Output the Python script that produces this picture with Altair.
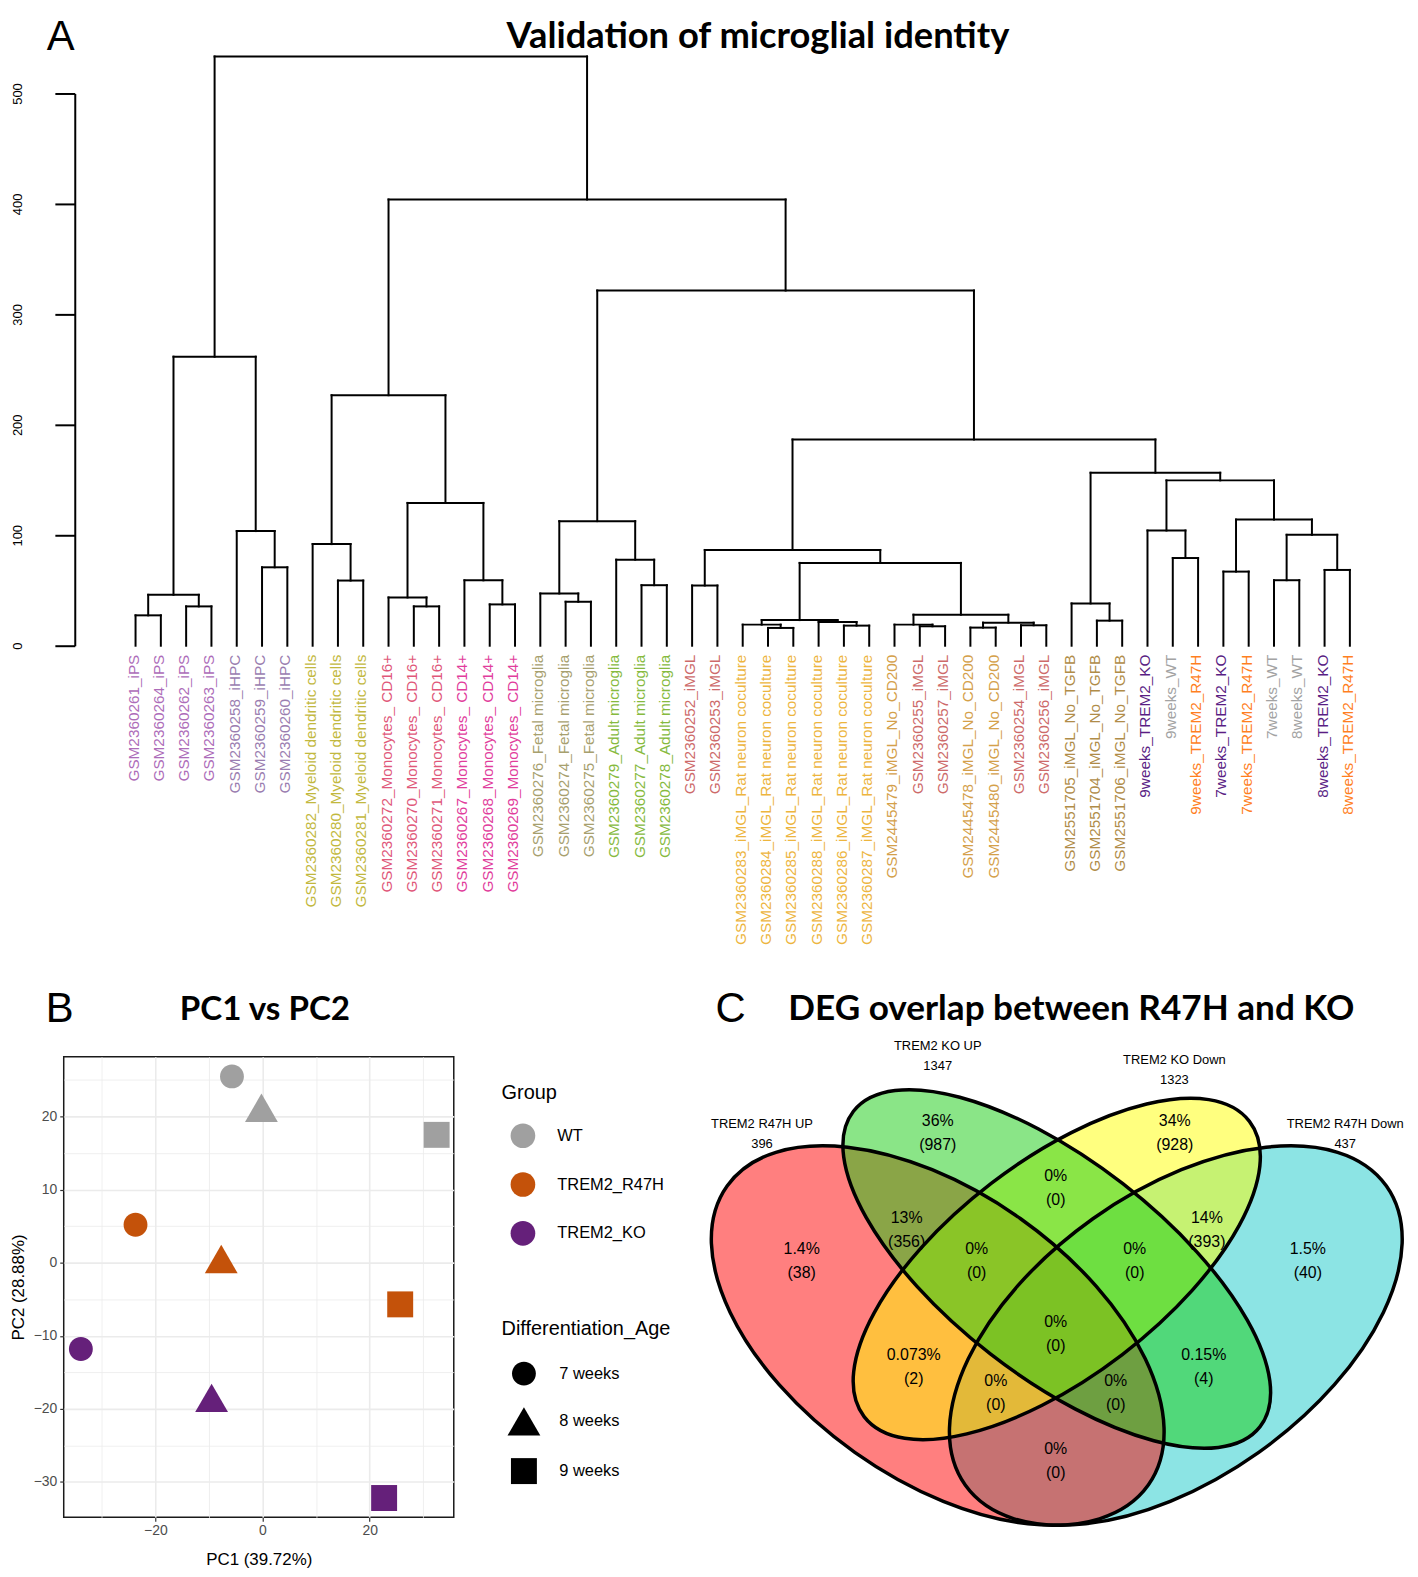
import altair as alt
import numpy as np
import pandas as pd

FONT = "Liberation Sans"
HEAD = "Lato"

panel_letters = ["A", "B", "C"]
panel_titles = ["Validation of microglial identity", "PC1 vs PC2", "DEG overlap between R47H and KO"]

# ---------------- Panel A : hierarchical clustering ----------------
leaf_labels = [
    "GSM2360261_iPS", "GSM2360264_iPS", "GSM2360262_iPS", "GSM2360263_iPS",
    "GSM2360258_iHPC", "GSM2360259_iHPC", "GSM2360260_iHPC",
    "GSM2360282_Myeloid dendritic cells", "GSM2360280_Myeloid dendritic cells", "GSM2360281_Myeloid dendritic cells",
    "GSM2360272_Monocytes_ CD16+", "GSM2360270_Monocytes_ CD16+", "GSM2360271_Monocytes_ CD16+",
    "GSM2360267_Monocytes_ CD14+", "GSM2360268_Monocytes_ CD14+", "GSM2360269_Monocytes_ CD14+",
    "GSM2360276_Fetal microglia", "GSM2360274_Fetal microglia", "GSM2360275_Fetal microglia",
    "GSM2360279_Adult microglia", "GSM2360277_Adult microglia", "GSM2360278_Adult microglia",
    "GSM2360252_iMGL", "GSM2360253_iMGL",
    "GSM2360283_iMGL_Rat neuron coculture", "GSM2360284_iMGL_Rat neuron coculture",
    "GSM2360285_iMGL_Rat neuron coculture", "GSM2360288_iMGL_Rat neuron coculture",
    "GSM2360286_iMGL_Rat neuron coculture", "GSM2360287_iMGL_Rat neuron coculture",
    "GSM2445479_iMGL_No_CD200", "GSM2360255_iMGL", "GSM2360257_iMGL",
    "GSM2445478_iMGL_No_CD200", "GSM2445480_iMGL_No_CD200", "GSM2360254_iMGL", "GSM2360256_iMGL",
    "GSM2551705_iMGL_No_TGFB", "GSM2551704_iMGL_No_TGFB", "GSM2551706_iMGL_No_TGFB",
    "9weeks_TREM2_KO", "9weeks_WT", "9weeks_TREM2_R47H",
    "7weeks_TREM2_KO", "7weeks_TREM2_R47H", "7weeks_WT", "8weeks_WT",
    "8weeks_TREM2_KO", "8weeks_TREM2_R47H",
]
leaf_groups = (["iPS"] * 4 + ["iHPC"] * 3 + ["Myeloid DC"] * 3 + ["Mono CD16+"] * 3 + ["Mono CD14+"] * 3
               + ["Fetal"] * 3 + ["Adult"] * 3 + ["iMGL"] * 2 + ["Coculture"] * 6
               + ["No_CD200", "iMGL", "iMGL", "No_CD200", "No_CD200", "iMGL", "iMGL"]
               + ["No_TGFB"] * 3
               + ["KO", "WT", "R47H", "KO", "R47H", "WT", "WT", "KO", "R47H"])
leaf_group_levels = ["iPS", "iHPC", "Myeloid DC", "Mono CD16+", "Mono CD14+", "Fetal", "Adult", "iMGL",
                     "Coculture", "No_CD200", "No_TGFB", "KO", "WT", "R47H"]
leaf_group_colors = ["#AD6CB9", "#9A7DB0", "#C2B83E", "#E0587A", "#E13D9C", "#A7A06E", "#86BA3E", "#CD6A6A",
                     "#EDB53E", "#D4A04A", "#B08C48", "#5A1E84", "#A3A3A3", "#FF7F1F"]

# hclust-style merge table (negative = leaf, positive = earlier merge)
merge_left = [-1, -3, 1, -6, -5, 3, -9, -8, -12, -11, -15, -14, 10, 8, -18, -17, -21, -20, 16, -23, -26, -25,
              -29, -28, 22, -32, -31, -34, -36, 28, 27, 25, 20, -39, -38, -42, -41, -44, -46, -48, 39, 38, 37,
              35, 33, 19, 14, 6]
merge_right = [-2, -4, 2, -7, 4, 5, -10, 7, -13, 9, -16, 11, 12, 13, -19, 15, -22, 17, 18, -24, -27, 21,
               -30, 23, 24, -33, 26, -35, -37, 29, 30, 31, 32, -40, 34, -43, 36, -45, -47, -49, 40, 41, 42,
               43, 44, 45, 46, 47]
merge_height = [27.5, 35.6, 46.1, 71.0, 103.8, 261.7, 59.0, 92.0, 35.6, 43.7, 37.4, 59.2, 129.3, 226.8,
                39.8, 47.3, 54.8, 77.9, 112.8, 54.5, 16.1, 19.1, 18.2, 21.5, 23.2, 17.6, 19.1, 16.4, 18.5,
                20.9, 28.1, 75.0, 86.7, 22.7, 38.3, 79.4, 104.3, 67.1, 59.3, 68.6, 100.4, 114.2, 149.7,
                156.6, 186.7, 321.6, 404.0, 533.5]
y_ticks_a = [0, 100, 200, 300, 400, 500]

node_x = []
segs = []


def child(n):
    if n < 0:
        return float(-n), 0.0
    return node_x[n - 1], merge_height[n - 1]


for l, r, h in zip(merge_left, merge_right, merge_height):
    lx, lh = child(l)
    rx, rh = child(r)
    segs.append((lx, lh, lx, h))
    segs.append((rx, rh, rx, h))
    segs.append((lx, h, rx, h))
    node_x.append((lx + rx) / 2)

seg_df = pd.DataFrame(segs, columns=["x", "y", "x2", "y2"])
leaf_df = pd.DataFrame({"x": [float(i + 1) for i in range(len(leaf_labels))], "y": 0.0,
                        "label": leaf_labels, "grp": leaf_groups})

LEAF_PX = 25.43
XA = [-1.839, 50.0]
YA_PX = 1.11
xs_a = alt.Scale(domain=XA, nice=False, zero=False)
ys_a = alt.Scale(domain=[0, 500], nice=False, zero=False)

rules = alt.Chart(seg_df).mark_rule(color="black", strokeWidth=2, strokeCap="square").encode(
    x=alt.X("x:Q", scale=xs_a, axis=None),
    x2="x2:Q",
    y=alt.Y("y:Q", scale=ys_a, axis=alt.Axis(
        values=y_ticks_a, title=None, grid=False, labelAngle=270, labelAlign="center",
        labelBaseline="bottom", labelFont=FONT, labelFontSize=13, labelColor="black",
        labelPadding=31, tickSize=20, tickWidth=2, tickColor="black", offset=-11.1,
        domainColor="black", domainWidth=2)),
    y2="y2:Q",
)
leaves = alt.Chart(leaf_df).mark_text(angle=270, align="right", baseline="middle", dx=-9, dy=-2,
                                      font=FONT, fontSize=15.4).encode(
    x=alt.X("x:Q", scale=xs_a, axis=None),
    y=alt.Y("y:Q", scale=ys_a),
    text="label:N",
    color=alt.Color("grp:N", scale=alt.Scale(domain=leaf_group_levels, range=leaf_group_colors), legend=None),
)
# invisible spacer that fixes the top edge of the panel, so the headings sit fully inside the picture
spacer_a = alt.Chart(pd.DataFrame({"t": [panel_letters[0]]})).mark_rule(opacity=0, strokeWidth=1).encode(
    x=alt.value(0), x2=alt.value(10), y=alt.value(-81.5))
letter_a = alt.Chart(pd.DataFrame({"t": [panel_letters[0]]})).mark_text(
    font=FONT, fontSize=42, align="center", baseline="alphabetic", color="black").encode(
    x=alt.value(-3), y=alt.value(-43.5), text="t:N")
title_a = alt.Chart(pd.DataFrame({"t": [panel_titles[0]]})).mark_text(
    font=HEAD, fontSize=36.5, fontWeight="bold", align="center", baseline="alphabetic", color="black").encode(
    x=alt.value(697.7), y=alt.value(-45.5), text="t:N")

panel_a = alt.layer(rules, leaves, spacer_a, letter_a, title_a).properties(
    width=round((XA[1] - XA[0]) * LEAF_PX), height=round(500 * YA_PX))

# ---------------- Panel B : PCA ----------------
pca_group = ["WT", "WT", "WT", "TREM2_R47H", "TREM2_R47H", "TREM2_R47H", "TREM2_KO", "TREM2_KO", "TREM2_KO"]
pca_age = ["7 weeks", "8 weeks", "9 weeks"] * 3
pc1 = [-5.7, -0.2, 32.5, -23.7, -7.7, 25.7, -33.9, -9.5, 22.7]
pc2 = [25.5, 21.2, 17.5, 5.2, 0.5, -5.7, -11.8, -18.5, -32.2]
group_levels = ["WT", "TREM2_R47H", "TREM2_KO"]
group_colors = ["#A0A0A0", "#C4520A", "#65207A"]
age_levels = ["7 weeks", "8 weeks", "9 weeks"]
k = 0.5523
rc = 0.727
circle_path = (f"M {rc} 0 C {rc} {k*rc:.4f} {k*rc:.4f} {rc} 0 {rc} C {-k*rc:.4f} {rc} {-rc} {k*rc:.4f} {-rc} 0 "
               f"C {-rc} {-k*rc:.4f} {-k*rc:.4f} {-rc} 0 {-rc} C {k*rc:.4f} {-rc} {rc} {-k*rc:.4f} {rc} 0 Z")
tri_path = "M 0 -0.866 L 1 0.866 L -1 0.866 Z"
sq_path = "M -0.79 -0.79 L 0.79 -0.79 L 0.79 0.79 L -0.79 0.79 Z"
age_shapes = [circle_path, tri_path, sq_path]

pca_df = pd.DataFrame({"PC1": pc1, "PC2": pc2, "Group": pca_group, "Differentiation_Age": pca_age})

x_major = "datum.value % 20 == 0"
y_major = "datum.value % 10 == 0"
pts = alt.Chart(pca_df).mark_point(filled=True, size=1089, opacity=1, strokeWidth=0).encode(
    x=alt.X("PC1:Q", scale=alt.Scale(domain=[-37.1, 35.7], nice=False, zero=False),
            axis=alt.Axis(values=[-30, -20, -10, 0, 10, 20, 30],
                          labelExpr=f"{x_major} ? datum.label : ''",
                          gridColor="#EBEBEB",
                          gridWidth={"condition": {"test": x_major, "value": 1.6}, "value": 0.8},
                          tickColor={"condition": {"test": x_major, "value": "#333333"}, "value": "transparent"},
                          tickSize=4, tickWidth=1.2, domain=False, labelFont=FONT, labelFontSize=14,
                          labelColor="#4D4D4D", labelPadding=2, title="PC1 (39.72%)", titleFont=FONT,
                          titleFontSize=17, titleFontWeight="normal", titleColor="black", titlePadding=14)),
    y=alt.Y("PC2:Q", scale=alt.Scale(domain=[-34.85, 28.2], nice=False, zero=False),
            axis=alt.Axis(values=[-30, -25, -20, -15, -10, -5, 0, 5, 10, 15, 20, 25],
                          labelExpr=f"{y_major} ? datum.label : ''",
                          gridColor="#EBEBEB",
                          gridWidth={"condition": {"test": y_major, "value": 1.6}, "value": 0.8},
                          tickColor={"condition": {"test": y_major, "value": "#333333"}, "value": "transparent"},
                          tickSize=4, tickWidth=1.2, domain=False, labelFont=FONT, labelFontSize=14,
                          labelColor="#4D4D4D", labelPadding=3, title="PC2 (28.88%)", titleFont=FONT,
                          titleFontSize=17, titleFontWeight="normal", titleColor="black", titlePadding=6)),
    color=alt.Color("Group:N", scale=alt.Scale(domain=group_levels, range=group_colors),
                    legend=alt.Legend(orient="none", legendX=440, legendY=27, title="Group", padding=0,
                                      titleFont=FONT, titleFontSize=20, titleFontWeight="normal",
                                      titleColor="black", titlePadding=20, labelFont=FONT, labelFontSize=16.5,
                                      labelColor="black", symbolType="circle", symbolSize=615,
                                      symbolStrokeWidth=0, symbolOpacity=1, rowPadding=24, labelOffset=22,
                                      symbolOffset=9)),
    shape=alt.Shape("Differentiation_Age:N", scale=alt.Scale(domain=age_levels, range=age_shapes),
                    legend=alt.Legend(orient="none", legendX=440, legendY=264, title="Differentiation_Age",
                                      padding=0, titleFont=FONT, titleFontSize=20, titleFontWeight="normal",
                                      titleColor="black", titlePadding=18, labelFont=FONT, labelFontSize=16.5,
                                      labelColor="black", symbolSize=1089, symbolFillColor="black",
                                      symbolStrokeWidth=0, symbolOpacity=1, rowPadding=19, labelOffset=19,
                                      symbolOffset=6)),
)
letter_b = alt.Chart(pd.DataFrame({"t": [panel_letters[1]]})).mark_text(
    font=FONT, fontSize=42, align="center", baseline="alphabetic", color="black").encode(
    x=alt.value(-4), y=alt.value(-34.7), text="t:N")
title_b = alt.Chart(pd.DataFrame({"t": [panel_titles[1]]})).mark_text(
    font=HEAD, fontSize=33.3, fontWeight="bold", align="center", baseline="alphabetic", color="black").encode(
    x=alt.value(202.2), y=alt.value(-36.7), text="t:N")
panel_b = alt.layer(pts, letter_b, title_b).properties(
    width=392, height=463, view=alt.ViewBackground(stroke="#1A1A1A", strokeWidth=1.5))

# ---------------- Panel C : Venn diagram ----------------
venn_sets = ["TREM2 R47H Down", "TREM2 R47H UP", "TREM2 KO Down", "TREM2 KO UP"]
venn_cx = [0.65, 0.35, 0.50, 0.50]
venn_cy = [0.47, 0.47, 0.57, 0.57]
venn_a = [0.35, 0.35, 0.33, 0.35]
venn_b = [0.20, 0.20, 0.15, 0.15]
venn_rot = [45, 135, 45, 135]
venn_fill = ["#19C9C9", "#FF0000", "#FFFF00", "#16CC10"]

region_u = [0.350, 0.6487, 0.4987, 0.3109, 0.6891, 0.1786, 0.3991, 0.5982, 0.8163, 0.4987, 0.3198, 0.6852,
            0.4232, 0.5743, 0.4987]
region_v = [0.7746, 0.7746, 0.6912, 0.6279, 0.6279, 0.5813, 0.5813, 0.5813, 0.5813, 0.4723, 0.4227, 0.4227,
            0.3837, 0.3837, 0.2815]
region_pct = ["36%", "34%", "0%", "13%", "14%", "1.4%", "0%", "0%", "1.5%", "0%", "0.073%", "0.15%",
              "0%", "0%", "0%"]
region_n = [987, 928, 0, 356, 393, 38, 0, 0, 40, 0, 2, 4, 0, 0, 0]

cat_names = ["TREM2 R47H UP", "TREM2 KO UP", "TREM2 KO Down", "TREM2 R47H Down"]
cat_totals = [396, 1347, 1323, 437]
cat_u = [0.1286, 0.350, 0.6482, 0.8634]
cat_v = [0.7728, 0.8895, 0.8684, 0.7728]

SX = 798.0
SY = 669.0
VU = [0.07, 0.93]
VV = [0.185, 0.8888]


def ellipse_path(e):
    return (f"M 1 0 C 1 {k*e:.4f} {k:.4f} {e:.4f} 0 {e:.4f} C {-k:.4f} {e:.4f} -1 {k*e:.4f} -1 0 "
            f"C -1 {-k*e:.4f} {-k:.4f} {-e:.4f} 0 {-e:.4f} C {k:.4f} {-e:.4f} 1 {-k*e:.4f} 1 0 Z")


ell_rows = []
for name, cx, cy, a, b, rot in zip(venn_sets, venn_cx, venn_cy, venn_a, venn_b, venn_rot):
    t = np.radians(rot)
    R = np.array([[np.cos(t), -np.sin(t)], [np.sin(t), np.cos(t)]])
    A = np.diag([SX, -SY]) @ R @ np.diag([a, b])
    U, s, Vt = np.linalg.svd(A)
    ang = float(np.degrees(np.arctan2(U[1, 0], U[0, 0])) % 180)
    ell_rows.append({"set": name, "cx": cx, "cy": cy, "size": float((2 * s[0]) ** 2), "angle": ang,
                     "path": ellipse_path(s[1] / s[0])})
ell_df = pd.DataFrame(ell_rows)

vx = alt.Scale(domain=VU, nice=False, zero=False)
vy = alt.Scale(domain=VV, nice=False, zero=False)

enc_common = dict(
    x=alt.X("cx:Q", scale=vx, axis=None),
    y=alt.Y("cy:Q", scale=vy, axis=None),
    shape=alt.Shape("set:N", scale=alt.Scale(domain=venn_sets, range=list(ell_df["path"])), legend=None),
    size=alt.Size("size:Q", scale=None),
    angle=alt.Angle("angle:Q", scale=None),
)
ell_plot_df = ell_df.drop(columns=["path"])
fills = alt.Chart(ell_plot_df).mark_point(filled=True, opacity=0.5, strokeWidth=0).encode(
    color=alt.Color("set:N", scale=alt.Scale(domain=venn_sets, range=venn_fill), legend=None),
    **enc_common)
outlines = alt.Chart(ell_plot_df).mark_point(filled=False, color="black", strokeWidth=3.5, opacity=1).encode(
    **enc_common)

reg_df = pd.DataFrame({"u": region_u, "v": region_v, "pct": region_pct,
                       "cnt": [f"({n})" for n in region_n]})
reg_pct = alt.Chart(reg_df).mark_text(font=FONT, fontSize=16, baseline="middle", align="center",
                                      color="black", dy=-12).encode(
    x=alt.X("u:Q", scale=vx, axis=None), y=alt.Y("v:Q", scale=vy, axis=None), text="pct:N")
reg_cnt = alt.Chart(reg_df).mark_text(font=FONT, fontSize=16, baseline="middle", align="center",
                                      color="black", dy=12).encode(
    x=alt.X("u:Q", scale=vx, axis=None), y=alt.Y("v:Q", scale=vy, axis=None), text="cnt:N")
cat_df = pd.DataFrame({"u": cat_u, "v": cat_v, "name": cat_names, "tot": [str(n) for n in cat_totals]})
cat_name = alt.Chart(cat_df).mark_text(font=FONT, fontSize=13, baseline="middle", align="center",
                                       color="black", dy=-10).encode(
    x=alt.X("u:Q", scale=vx, axis=None), y=alt.Y("v:Q", scale=vy, axis=None), text="name:N")
cat_tot = alt.Chart(cat_df).mark_text(font=FONT, fontSize=13, baseline="middle", align="center",
                                      color="black", dy=10).encode(
    x=alt.X("u:Q", scale=vx, axis=None), y=alt.Y("v:Q", scale=vy, axis=None), text="tot:N")
letter_c = alt.Chart(pd.DataFrame({"t": [panel_letters[2]]})).mark_text(
    font=FONT, fontSize=42, align="center", baseline="alphabetic", color="black").encode(
    x=alt.value(15.1), y=alt.value(-34.7), text="t:N")
title_c = alt.Chart(pd.DataFrame({"t": [panel_titles[2]]})).mark_text(
    font=HEAD, fontSize=35.3, fontWeight="bold", align="center", baseline="alphabetic", color="black").encode(
    x=alt.value(357.7), y=alt.value(-36.7), text="t:N")
panel_c = alt.layer(fills, outlines, reg_pct, reg_cnt, cat_name, cat_tot, letter_c, title_c).properties(
    width=round((VU[1] - VU[0]) * SX), height=round((VV[1] - VV[0]) * SY))

bottom = alt.hconcat(panel_b, panel_c, spacing=32).resolve_scale(color="independent", shape="independent")
chart = alt.vconcat(panel_a, bottom, spacing=41).resolve_scale(
    color="independent", shape="independent").properties(
    padding={"left": 0, "top": 0, "right": 0, "bottom": 0}, background="white").configure_view(
    stroke="transparent")

chart.save("out.html", embed_options={"renderer": "svg", "actions": False})
